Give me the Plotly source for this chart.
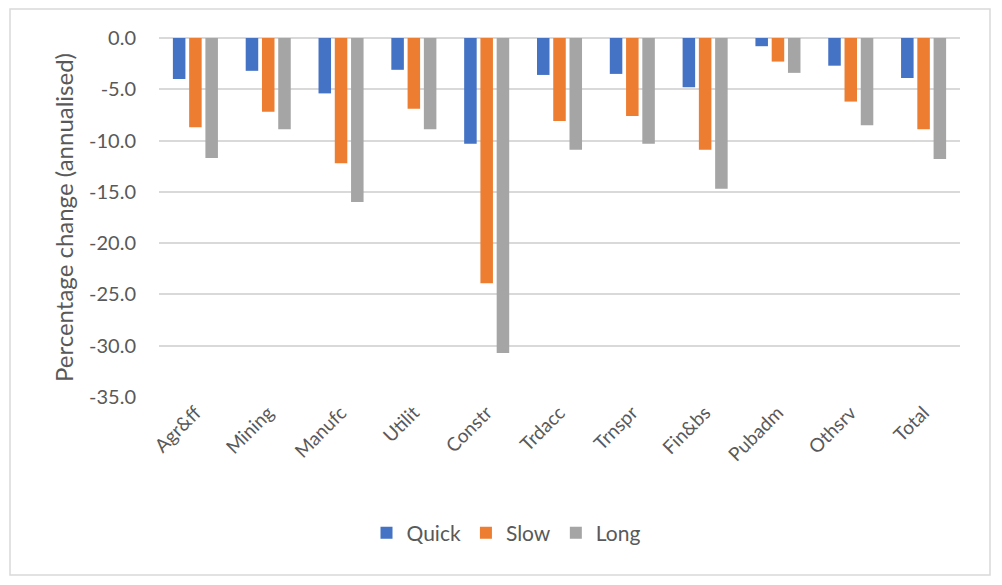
import plotly.graph_objects as go

categories = ["Agr&ff", "Mining", "Manufc", "Utilit", "Constr", "Trdacc",
              "Trnspr", "Fin&bs", "Pubadm", "Othsrv", "Total"]
quick = [-4.0, -3.2, -5.4, -3.1, -10.3, -3.6, -3.5, -4.8, -0.8, -2.7, -3.9]
slow = [-8.7, -7.2, -12.2, -6.9, -23.9, -8.1, -7.6, -10.9, -2.3, -6.2, -8.9]
long_ = [-11.7, -8.9, -16.0, -8.9, -30.7, -10.9, -10.3, -14.7, -3.4, -8.5, -11.8]
y_ticks = [0, -5, -10, -15, -20, -25, -30, -35]
y_tick_labels = ["0.0", "-5.0", "-10.0", "-15.0", "-20.0", "-25.0", "-30.0", "-35.0"]

font_family = "Lato, 'Open Sans', sans-serif"
txt = "#595959"

fig = go.Figure()
for name, vals, col in [("Quick", quick, "#4472C4"),
                        ("Slow", slow, "#ED7D31"),
                        ("Long", long_, "#A5A5A5")]:
    fig.add_trace(go.Bar(name=name, x=categories, y=vals, marker_color=col,
                         marker_line_width=0))

OFF = 8  # browser body margin
W, H = 1002 - OFF, 585 - OFF
L, R, T, B = 159 - OFF, 960 - OFF, 38 - OFF, 397 - OFF
pw, ph = R - L, B - T

def px_x(x):
    return (x - OFF - L) / pw

def px_y(y):
    return (B - (y - OFF)) / ph

fig.update_layout(
    width=W, height=H,
    margin=dict(l=L, r=W - R, t=T, b=H - B, pad=0),
    paper_bgcolor="white", plot_bgcolor="white",
    barmode="group", bargap=0.33, bargroupgap=0.23,
    font=dict(family=font_family, color=txt, size=18),
    showlegend=True,
    legend=dict(orientation="h", x=px_x(506), y=px_y(533),
                xanchor="center", yanchor="middle",
                font=dict(size=21, color=txt), traceorder="normal",
                itemwidth=30),
    xaxis=dict(tickangle=-45, showgrid=False, showline=False, ticks="",
               tickfont=dict(size=19, color=txt)),
    yaxis=dict(range=[-35, 0], tickvals=y_ticks, ticktext=y_tick_labels,
               showgrid=True, gridcolor="#D9D9D9", gridwidth=1.5,
               zeroline=True, zerolinecolor="#D9D9D9", zerolinewidth=1.5,
               showline=False, ticks="", ticklabelstandoff=22,
               tickfont=dict(size=20, color=txt),
               title=dict(text="Percentage change (annualised)",
                          font=dict(size=24, color=txt), standoff=8)),
    shapes=[dict(type="rect", xref="paper", yref="paper",
                 x0=px_x(10), x1=px_x(990), y0=px_y(575), y1=px_y(9),
                 line=dict(color="#D9D9D9", width=1.5), layer="below")],
)

fig.write_html("out.html")
